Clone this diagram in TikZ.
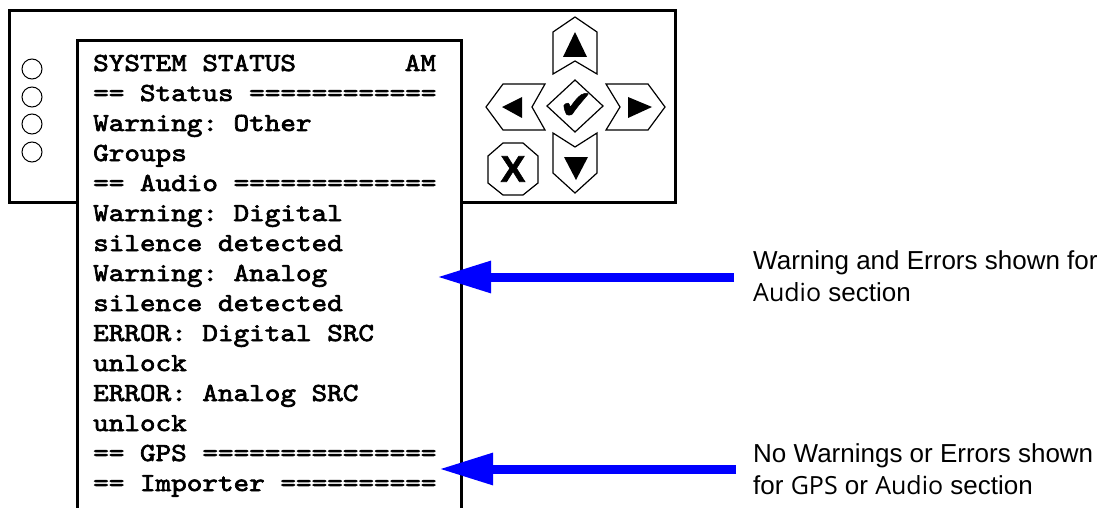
\documentclass[tikz,border=0pt]{standalone}
\usepackage{fontspec}
\setmainfont{Liberation Sans}
\newfontfamily\opensans{Open Sans}
\newfontfamily\dejavu{DejaVu Sans}[FakeBold=1.2]
\newfontfamily\heavy{Liberation Sans}[UprightFont=*-Bold, FakeBold=1.6]
\newfontfamily\lcdfont{lmmono10-regular}[Extension=.otf, FakeBold=2.6, FakeStretch=1.143]
\usetikzlibrary{arrows.meta}
\definecolor{arrowblue}{RGB}{0,0,255}
\frenchspacing
\begin{document}
\begin{tikzpicture}[x=1pt,y=-1pt,
  panel/.style={draw, line width=3pt},
  lcd/.style={draw, line width=3pt, fill=white},
  led/.style={draw, line width=1pt},
  btn/.style={draw, line width=1.2pt, line join=miter},
  tri/.style={fill=black},
  lcdtext/.style={anchor=base west, inner sep=0pt, font=\lcdfont\fontsize{26}{30}\selectfont},
  note/.style={anchor=base west, inner sep=0pt, font=\fontsize{26}{31}\selectfont},
  callout/.style={draw=arrowblue, line width=9pt, -{Triangle[length=54pt,width=30pt]}}
]
\useasboundingbox (0,0) rectangle (1102,508);

% front panel
\draw[panel] (9,11) rectangle (675,202);
\foreach \yy [count=\k] in {69,97,124,152}
  \draw[led] (32,\yy) circle (10);

% LCD screen
\path[lcd] (77,515) -- (77,41) -- (461,41) -- (461,515);

\foreach \t [count=\i] in {{SYSTEM STATUS},{== Status ============},{Warning: Other},{Groups},{== Audio =============},{Warning: Digital},{silence detected},{Warning: Analog},{silence detected},{ERROR: Digital SRC},{unlock},{ERROR: Analog SRC},{unlock},{== GPS ===============},{== Importer ==========}}
  \node[lcdtext] (l\i) at (93,{71+30*(\i-1)}) {\t};
\node[lcdtext, anchor=base east] (am) at (436.2,71) {AM};

% buttons
\draw[btn] (575,17) -- (597,32) -- (597,74) -- (575,61) -- (553,74) -- (553,32) -- cycle;
\fill[tri] (575,32) -- (587,57) -- (563,57) -- cycle;

\draw[btn] (486,107) -- (503,84) -- (545,84) -- (532,107) -- (545,130) -- (503,130) -- cycle;
\fill[tri] (502,107) -- (522,97) -- (522,118) -- cycle;

\draw[btn] (665,107) -- (648,84) -- (606,84) -- (620,107) -- (606,130) -- (648,130) -- cycle;
\fill[tri] (652,107) -- (628,97) -- (628,118) -- cycle;

\draw[btn] (553,133) -- (575,147) -- (597,133) -- (597,173) -- (575,193) -- (553,173) -- cycle;
\fill[tri] (564,157) -- (588,157) -- (576,180) -- cycle;

\draw[btn] (547,106) -- (575,80) -- (603,106) -- (575,132) -- cycle;
\node[inner sep=0pt, font=\dejavu\fontsize{40}{40}\selectfont] (ok) at (576,106) {✔};

\draw[btn] (503,143) -- (523,143) -- (538,156) -- (538,183) -- (523,195) -- (503,195) -- (488,183) -- (488,156) -- cycle;
\node[inner sep=0pt, font=\heavy\fontsize{37}{37}\selectfont] (esc) at (513,169) {X};

% notes
\node[note] (n1a) at (753,269) {Warning and Errors shown for};
\node[note] (n1b) at (753,301) {{\opensans\fontsize{25}{30}\selectfont Audio} section};
\node[note] (n2a) at (753,462) {No Warnings or Errors shown};
\node[note] (n2b) at (753,494) {for {\opensans\fontsize{25}{30}\selectfont GPS} or {\opensans\fontsize{25}{30}\selectfont Audio} section};

% callout arrows
\coordinate (s1) at (734,277);
\coordinate (t1) at (437,277);
\coordinate (s2) at (736,469);
\coordinate (t2) at (439,469);
\draw[callout] (s1) -- (t1);
\draw[callout] (s2) -- (t2);
\end{tikzpicture}
\end{document}
